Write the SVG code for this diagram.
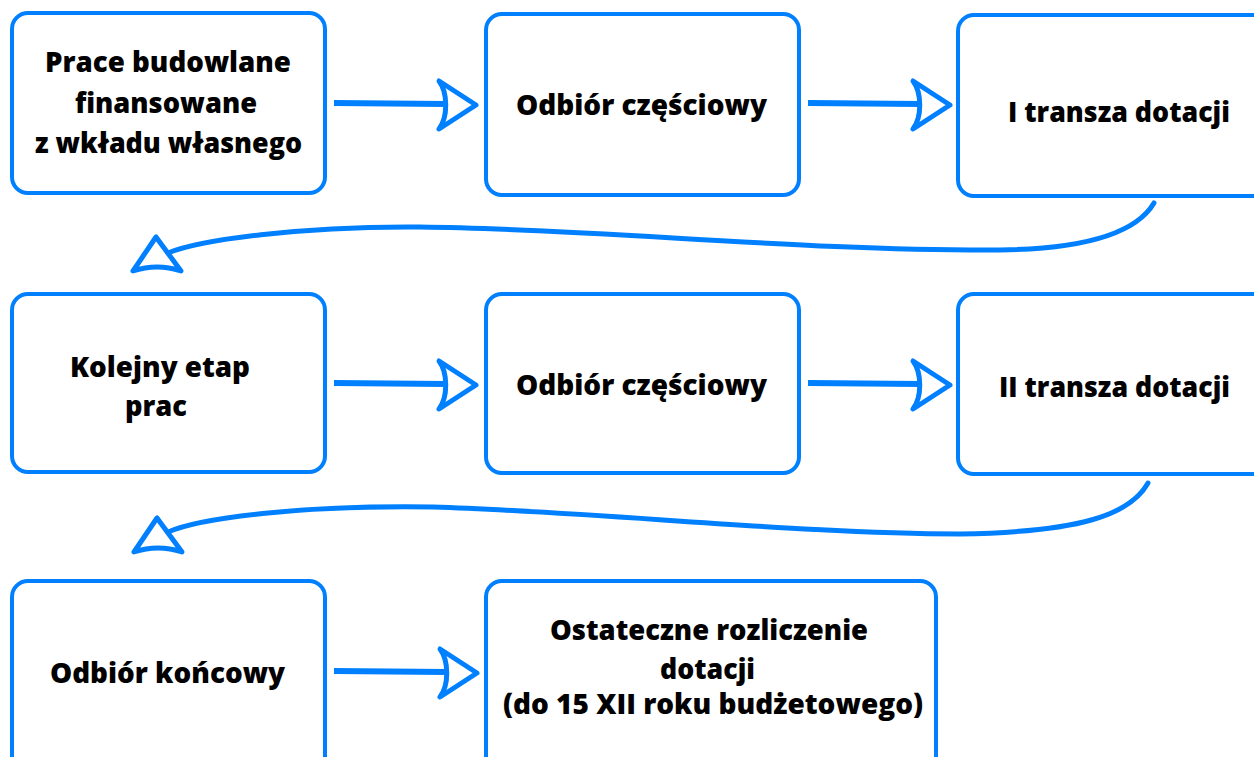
<svg xmlns="http://www.w3.org/2000/svg" width="1254" height="757" viewBox="0 0 1254 757">
<style>
.box{fill:#fff;stroke:#0080ff;stroke-width:4}
.t{font-family:"Open Sans","Liberation Sans",sans-serif;font-weight:800;font-size:28px;fill:#000}
.ln{fill:none;stroke:#0080ff;stroke-width:6;stroke-linecap:butt}
.cv{fill:none;stroke:#0080ff;stroke-width:5;stroke-linecap:round}
.hd{fill:none;stroke:#0080ff;stroke-width:5;stroke-linejoin:round}
</style>
<rect width="1254" height="757" fill="#fff"/>
<g id="connectors">
<line class="ln" x1="334" y1="103" x2="446" y2="104"/>
<path class="hd" d="M439,81 C448,93 448,117 439,129 L476,105 Z"/>
<line class="ln" x1="808" y1="103" x2="920" y2="104"/>
<path class="hd" d="M913,81 C922,93 922,117 913,129 L950,105 Z"/>
<path class="cv" d="M1154,203 C1135,235 1080,249 1000,250 C800,251 600,229 420,227 C300,226 200,240 168,253"/>
<path class="hd" d="M156,237 L133,271 Q157,263 181,271 Z"/>
<line class="ln" x1="334" y1="383" x2="446" y2="384"/>
<path class="hd" d="M439,361 C448,373 448,397 439,409 L476,385 Z"/>
<line class="ln" x1="808" y1="383" x2="920" y2="384"/>
<path class="hd" d="M913,361 C922,373 922,397 913,409 L950,385 Z"/>
<path class="cv" d="M1148,483 C1130,515 1080,532 960,534 C800,534 600,512 433,507 C300,505 200,518 168,532"/>
<path class="hd" d="M157,518 L134,552 Q158,544 182,552 Z"/>
<line class="ln" x1="334" y1="671" x2="446" y2="672"/>
<path class="hd" d="M440,649 C449,661 449,685 440,697 L477,673 Z"/>
</g>
<g id="n1">
<rect class="box" x="12" y="13" width="313" height="180" rx="16"/>
<text class="t" x="45" y="72" textLength="246" lengthAdjust="spacingAndGlyphs">Prace budowlane</text>
<text class="t" x="75" y="113" textLength="182" lengthAdjust="spacingAndGlyphs">finansowane</text>
<text class="t" x="35" y="153" textLength="267" lengthAdjust="spacingAndGlyphs">z wkładu własnego</text>
</g>
<g id="n2">
<rect class="box" x="486" y="14" width="313" height="181" rx="16"/>
<text class="t" x="516" y="115" textLength="251" lengthAdjust="spacingAndGlyphs">Odbiór częściowy</text>
</g>
<g id="n3">
<rect class="box" x="958" y="15" width="320" height="181" rx="16"/>
<text class="t" x="1008" y="122" textLength="222" lengthAdjust="spacingAndGlyphs">I transza dotacji</text>
</g>
<g id="n4">
<rect class="box" x="12" y="294" width="313" height="178" rx="16"/>
<text class="t" x="70" y="377" textLength="180" lengthAdjust="spacingAndGlyphs">Kolejny etap</text>
<text class="t" x="125" y="416" textLength="62" lengthAdjust="spacingAndGlyphs">prac</text>
</g>
<g id="n5">
<rect class="box" x="486" y="294" width="313" height="179" rx="16"/>
<text class="t" x="516" y="395" textLength="251" lengthAdjust="spacingAndGlyphs">Odbiór częściowy</text>
</g>
<g id="n6">
<rect class="box" x="958" y="294" width="320" height="180" rx="16"/>
<text class="t" x="999" y="397" textLength="231" lengthAdjust="spacingAndGlyphs">II transza dotacji</text>
</g>
<g id="n7">
<rect class="box" x="12" y="581" width="313" height="200" rx="16"/>
<text class="t" x="50" y="683" textLength="235" lengthAdjust="spacingAndGlyphs">Odbiór końcowy</text>
</g>
<g id="n8">
<rect class="box" x="486" y="581" width="450" height="200" rx="16"/>
<text class="t" x="550" y="640" textLength="318" lengthAdjust="spacingAndGlyphs">Ostateczne rozliczenie</text>
<text class="t" x="660" y="679" textLength="95" lengthAdjust="spacingAndGlyphs">dotacji</text>
<text class="t" x="503" y="714" textLength="420" lengthAdjust="spacingAndGlyphs">(do 15 XII roku budżetowego)</text>
</g>
</svg>
